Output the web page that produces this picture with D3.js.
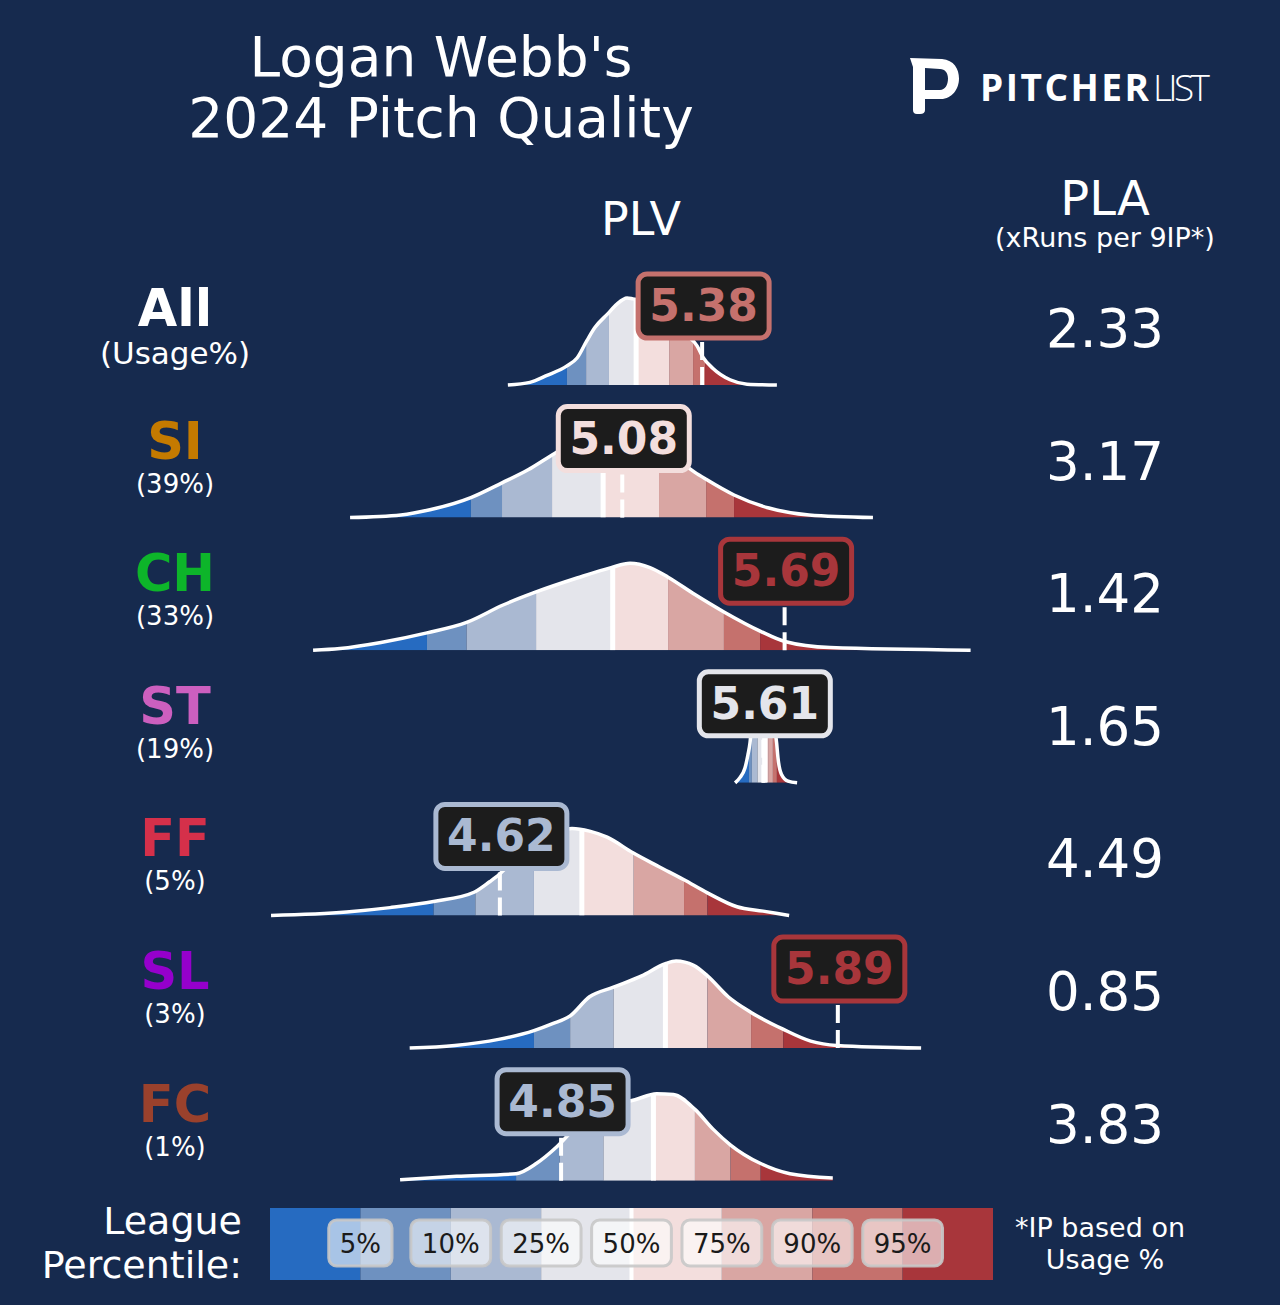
<!DOCTYPE html>
<html>
<head>
<meta charset="utf-8">
<script src="https://cdn.jsdelivr.net/npm/d3@7"></script>
<style>
  html, body { margin: 0; padding: 0; background: #162a4e; }
  svg { display: block; font-family: "DejaVu Sans", sans-serif; }
</style>
</head>
<body>
<div id="chart"></div>
<script>
// ---- data ----
const pitches = ["All", "SI", "CH", "ST", "FF", "SL", "FC"];
const usage = ["(Usage%)", "(39%)", "(33%)", "(19%)", "(5%)", "(3%)", "(1%)"];
const plvValues = [5.38, 5.08, 5.69, 5.61, 4.62, 5.89, 4.85];
const plaValues = [2.33, 3.17, 1.42, 1.65, 4.49, 0.85, 3.83];
const pctLabels = ["5%", "10%", "25%", "50%", "75%", "90%", "95%"];

// league percentile cut points (PLV) per pitch: 5,10,25,50,75,90,95
const cutsAll = [4.872, 4.944, 5.030, 5.132, 5.256, 5.346, 5.391];
const cutsSI = [4.511, 4.628, 4.816, 5.008, 5.218, 5.395, 5.500];
const cutsCH = [4.346, 4.495, 4.756, 5.044, 5.252, 5.462, 5.598];
const cutsST = [5.556, 5.567, 5.588, 5.615, 5.628, 5.646, 5.661];
const cutsFF = [4.371, 4.528, 4.748, 4.928, 5.123, 5.312, 5.400];
const cutsSL = [4.748, 4.884, 5.047, 5.242, 5.400, 5.564, 5.685];
const cutsFC = [4.681, 4.845, 5.009, 5.197, 5.353, 5.487, 5.600];

// league density, [PLV, % of peak]
const densityAll = [[4.650,0],[4.733,3],[4.797,11],[4.872,22],[4.910,31],[4.947,51],[4.977,66],[5.026,82],[5.060,93],[5.098,100],[5.120,99],[5.184,95],[5.259,77],[5.316,59],[5.361,45],[5.383,32],[5.421,19],[5.485,6],[5.549,1],[5.661,0]];
const densitySI = [[4.057,0],[4.248,3],[4.357,9],[4.511,23],[4.628,40],[4.726,55],[4.816,72],[4.902,87],[4.996,99],[5.053,100],[5.147,92],[5.241,76],[5.316,60],[5.353,52],[5.395,44],[5.500,26],[5.631,11],[5.782,3],[6.022,0]];
const densityCH = [[3.918,0],[4.019,2],[4.173,9],[4.346,20],[4.495,32],[4.632,52],[4.756,67],[4.910,83],[5.038,95],[5.109,100],[5.184,95],[5.252,84],[5.353,64],[5.462,44],[5.598,22],[5.691,10],[5.861,3],[6.389,0]];
const densityST = [[5.504,0],[5.522,6],[5.541,17],[5.552,32],[5.560,46],[5.567,69],[5.582,92],[5.609,100],[5.635,92],[5.650,69],[5.660,46],[5.665,29],[5.678,10],[5.703,2],[5.737,0]];
const densityFF = [[3.760,0],[4.044,4],[4.207,9],[4.371,16],[4.525,27],[4.583,39],[4.605,44],[4.658,59],[4.714,75],[4.771,89],[4.827,97],[4.891,100],[4.957,97],[5.023,90],[5.120,72],[5.218,56],[5.312,41],[5.400,26],[5.511,10],[5.609,5],[5.707,0]];
const densitySL = [[4.281,0],[4.451,3],[4.615,10],[4.748,20],[4.818,28],[4.884,37],[4.957,59],[5.047,70],[5.153,83],[5.242,97],[5.282,100],[5.348,95],[5.400,83],[5.478,59],[5.564,41],[5.682,22],[5.788,8],[5.886,3],[6.203,0]];
const densityFC = [[4.245,1],[4.458,5],[4.681,8],[4.758,20],[4.834,39],[4.902,60],[4.977,76],[5.053,87],[5.128,93],[5.209,100],[5.272,99],[5.353,82],[5.422,59],[5.487,41],[5.598,20],[5.710,8],[5.871,3]];

const cutsList = [cutsAll, cutsSI, cutsCH, cutsST, cutsFF, cutsSL, cutsFC];
const densities = [densityAll, densitySI, densityCH, densityST, densityFF, densitySL, densityFC];

// ---- styles ----
const bg = "#162a4e";
const pitchColors = ["#ffffff", "#c47a00", "#0db52a", "#cc5fbf", "#d5304a", "#9500cc", "#9a412c"];
const bandColors = ["#266bc1", "#6e91c0", "#aab9d2", "#e4e5eb", "#f3dedd", "#d9a6a3", "#c5716d", "#a8363b"];

const W = 1280, H = 1305;
const svg = d3.select("#chart").append("svg").attr("width", W).attr("height", H);
svg.append("rect").attr("width", W).attr("height", H).attr("fill", bg);

// title
svg.append("text").attr("x", 441).attr("y", 76).attr("text-anchor", "middle")
  .attr("font-size", 55).attr("fill", "#fff").text("Logan Webb's");
svg.append("text").attr("x", 441).attr("y", 137).attr("text-anchor", "middle")
  .attr("font-size", 55).attr("fill", "#fff").text("2024 Pitch Quality");

// logo
const logo = svg.append("g");
logo.append("path")
  .attr("d", "M910,58 L942,59 C954,60 959,69 959,78.5 C959,89 952,99 941,99 L925,99 L925,110 Q925,114 920,114 L917,114 Q913,114 913,110 L913,67 Z " +
    "M925,68 L940,69 C945,69 948,73 948,78.5 C948,85 945,90 940,90 L925,90 Z")
  .attr("fill", "#fff").attr("fill-rule", "evenodd");
logo.append("text").attr("x", 980).attr("y", 101).attr("font-family", "Open Sans")
  .attr("font-weight", 700).attr("font-size", 37).attr("fill", "#fff")
  .attr("textLength", 169).attr("lengthAdjust", "spacing").text("PITCHER");
logo.append("text").attr("x", 1153).attr("y", 101).attr("font-family", "Open Sans")
  .attr("font-weight", 300).attr("font-size", 37).attr("fill", "#fff")
  .attr("textLength", 57).attr("lengthAdjust", "spacing").text("LIST");

// column headers
svg.append("text").attr("x", 641).attr("y", 235).attr("text-anchor", "middle")
  .attr("font-size", 46).attr("fill", "#fff").text("PLV");
svg.append("text").attr("x", 1105).attr("y", 215).attr("text-anchor", "middle")
  .attr("font-size", 48).attr("fill", "#fff").text("PLA");
svg.append("text").attr("x", 1105).attr("y", 247).attr("text-anchor", "middle")
  .attr("font-size", 27).attr("fill", "#fff").text("(xRuns per 9IP*)");

// scales
const x = d3.scaleLinear().domain([4, 6]).range([334.9, 867.1]);
const h = d3.scaleLinear().domain([0, 100]).range([0, 87]);
const rowY = d3.scaleLinear().domain([0, 6]).range([385, 1180.7]);

const area = d3.area().x(d => x(d[0])).y0(0).y1(d => -h(d[1])).curve(d3.curveMonotoneX);
const line = d3.line().x(d => x(d[0])).y(d => -h(d[1])).curve(d3.curveMonotoneX);

pitches.forEach((p, i) => {
  const g = svg.append("g").attr("transform", `translate(0,${rowY(i)})`);
  const dens = densities[i];
  const cuts = cutsList[i];
  const v = plvValues[i];

  // left labels
  g.append("text").attr("x", 175).attr("y", -59).attr("text-anchor", "middle")
    .attr("font-size", 51).attr("font-weight", "bold").attr("fill", pitchColors[i]).text(p);
  g.append("text").attr("x", 175).attr("y", i === 0 ? -21 : -25).attr("text-anchor", "middle")
    .attr("font-size", i === 0 ? 31 : 26).attr("fill", "#fff").text(usage[i]);

  // PLA
  g.append("text").attr("x", 1105).attr("y", -38).attr("text-anchor", "middle")
    .attr("font-size", 53).attr("fill", "#fff").text(plaValues[i].toFixed(2));

  // density bands
  g.append("clipPath").attr("id", "clip" + i).append("path").attr("d", area(dens));
  const edges = [3, ...cuts, 7];
  const bands = g.append("g").attr("clip-path", `url(#clip${i})`);
  bands.selectAll("rect").data(d3.range(8)).join("rect")
    .attr("x", k => x(edges[k]))
    .attr("width", k => x(edges[k + 1]) - x(edges[k]))
    .attr("y", -100).attr("height", 101)
    .attr("fill", k => bandColors[k]);
  bands.append("rect").attr("x", x(cuts[3]) - 2.5).attr("width", 5)
    .attr("y", -100).attr("height", 101).attr("fill", "#fff");

  g.append("path").attr("d", line(dens)).attr("fill", "none")
    .attr("stroke", "#fff").attr("stroke-width", 3.5).attr("stroke-linejoin", "round");

  // value marker
  g.append("line").attr("x1", x(v)).attr("x2", x(v)).attr("y1", 0).attr("y2", -47)
    .attr("stroke", "#fff").attr("stroke-width", 4).attr("stroke-dasharray", "18,7");

  const col = bandColors[d3.bisect(cuts, v)];
  const cx = x(v) + 1.5;
  g.append("rect").attr("x", cx - 65.5).attr("y", -79 - 32).attr("width", 131).attr("height", 64)
    .attr("rx", 9).attr("fill", "#1c1c1c").attr("stroke", col).attr("stroke-width", 5);
  g.append("text").attr("x", cx).attr("y", -79 + 15).attr("text-anchor", "middle")
    .attr("font-size", 44).attr("font-weight", "bold").attr("fill", col).text(v.toFixed(2));
});

// legend
const lx = d3.scaleLinear().domain([0, 8]).range([270, 993]);
const leg = svg.append("g");
leg.selectAll("rect.seg").data(d3.range(8)).join("rect").attr("class", "seg")
  .attr("x", k => lx(k)).attr("width", k => lx(k + 1) - lx(k))
  .attr("y", 1208).attr("height", 72).attr("fill", k => bandColors[k]);
leg.append("rect").attr("x", lx(4) - 2).attr("width", 4).attr("y", 1208).attr("height", 72).attr("fill", "#fff");

pctLabels.forEach((t, k) => {
  const lg = leg.append("g");
  const txt = lg.append("text").attr("x", lx(k + 1)).attr("y", 1252.5).attr("text-anchor", "middle")
    .attr("font-size", 26).attr("fill", "#1a1a1a").text(t);
  const tw = txt.node().getComputedTextLength();
  lg.insert("rect", "text").attr("x", lx(k + 1) - tw / 2 - 11).attr("width", tw + 22)
    .attr("y", 1220).attr("height", 46).attr("rx", 8)
    .attr("fill", "rgba(255,255,255,0.6)").attr("stroke", "rgba(200,200,200,0.9)").attr("stroke-width", 3);
});

svg.append("text").attr("x", 242).attr("y", 1234).attr("text-anchor", "end")
  .attr("font-size", 38).attr("fill", "#fff").text("League");
svg.append("text").attr("x", 242).attr("y", 1278).attr("text-anchor", "end")
  .attr("font-size", 38).attr("fill", "#fff").text("Percentile:");
svg.append("text").attr("x", 1100).attr("y", 1237).attr("text-anchor", "middle")
  .attr("font-size", 27).attr("fill", "#fff").text("*IP based on");
svg.append("text").attr("x", 1105).attr("y", 1269).attr("text-anchor", "middle")
  .attr("font-size", 27).attr("fill", "#fff").text("Usage %");
</script>
</body>
</html>
